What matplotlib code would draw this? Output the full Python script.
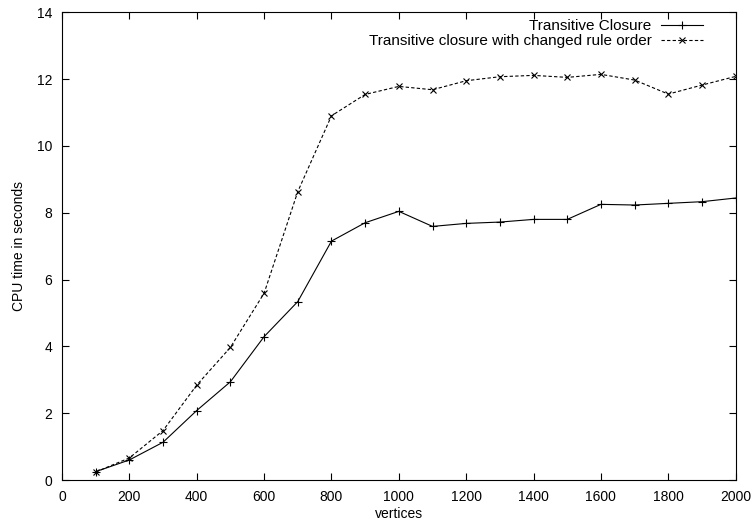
import matplotlib
matplotlib.use("Agg")
import matplotlib.pyplot as plt

plt.rcParams['font.family'] = ['Liberation Sans', 'DejaVu Sans']

vertices = [100, 200, 300, 400, 500, 600, 700, 800, 900, 1000,
            1100, 1200, 1300, 1400, 1500, 1600, 1700, 1800, 1900, 2000]
tc = [0.25, 0.6, 1.13, 2.08, 2.94, 4.29, 5.34, 7.15, 7.7, 8.04,
      7.59, 7.68, 7.72, 7.8, 7.8, 8.25, 8.23, 8.28, 8.33, 8.44]
tc_changed = [0.24, 0.66, 1.48, 2.84, 3.97, 5.59, 8.63, 10.9, 11.54, 11.78,
              11.68, 11.95, 12.07, 12.11, 12.05, 12.14, 11.97, 11.55, 11.82, 12.08]

fig = plt.figure(figsize=(7.55, 5.25), dpi=100)
ax = fig.add_axes([0.0821, 0.0857, 0.8923, 0.891])

ax.plot(vertices, tc, '-', color='k', lw=0.8, marker='+', ms=6, mew=0.8,
        label='Transitive Closure')
ax.plot(vertices, tc_changed, color='k', lw=0.8, dashes=(3, 2), marker='x',
        ms=5, mew=0.8, label='Transitive closure with changed rule order')

ax.set_xlim(0, 2000)
ax.set_ylim(0, 14)
ax.set_xticks(range(0, 2001, 200))
ax.set_yticks(range(0, 15, 2))
ax.tick_params(direction='in', top=True, right=True, length=5, width=0.8,
               labelsize=10, pad=7)
for s in ax.spines.values():
    s.set_linewidth(0.8)

ax.set_xlabel('vertices', fontsize=10, labelpad=2)
ax.set_ylabel('CPU time in seconds', fontsize=10, labelpad=8)

ax.legend(loc='upper right', bbox_to_anchor=(0.968, 1.008), frameon=False,
          markerfirst=False, fontsize=11, handlelength=2.8, handletextpad=0.6,
          labelspacing=0.05, borderpad=0.2)

fig.savefig('out.png', dpi=100)
